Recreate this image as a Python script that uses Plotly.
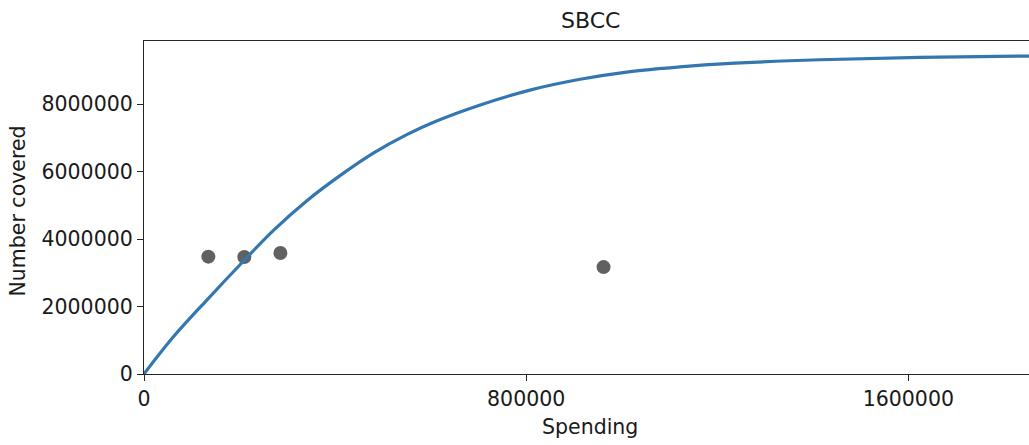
import plotly.graph_objects as go

# Observed data points (spending, number covered)
obs_spending = [134700, 210000, 285500, 962000]
obs_covered = [3480000, 3470000, 3590000, 3170000]

# Fitted response curve
curve_spending = [0, 62000, 132000, 201000, 271000, 341000, 411000, 480000, 550000,
                  610000, 704000, 808000, 913000, 1018000, 1122000, 1227000,
                  1415000, 1624000, 1853000]
curve_covered = [0, 1110000, 2200000, 3240000, 4260000, 5140000, 5890000, 6550000,
                 7100000, 7490000, 7980000, 8420000, 8740000, 8970000, 9110000,
                 9210000, 9320000, 9390000, 9430000]

x_ticks = [0, 800000, 1600000]
y_ticks = [0, 2000000, 4000000, 6000000, 8000000]

title_text = "SBCC"
x_label = "Spending"
y_label = "Number covered"

FONT = "DejaVu Sans"

fig = go.Figure()
fig.add_trace(go.Scatter(
    x=obs_spending, y=obs_covered, mode="markers",
    marker=dict(color="#616161", size=14, line=dict(width=0)),
    showlegend=False, cliponaxis=False,
))
fig.add_trace(go.Scatter(
    x=curve_spending, y=curve_covered, mode="lines",
    line=dict(color="#3477b0", width=3.2, shape="spline", smoothing=1.0),
    showlegend=False,
))

fig.update_layout(
    width=1029, height=445,
    margin=dict(l=144, r=0, t=41, b=71),
    paper_bgcolor="white", plot_bgcolor="white",
    font=dict(family=FONT, size=20.5, color="#1a1a1a"),
    xaxis=dict(
        range=[0, 1852600], tickvals=x_ticks, ticktext=[str(v) for v in x_ticks],
        showgrid=False, zeroline=False, showline=True, linecolor="#262626",
        linewidth=1.2, mirror=True, ticks="outside", ticklen=6, tickwidth=1,
        tickcolor="#262626", tickfont=dict(size=20.5, family=FONT, color="#1a1a1a"),
    ),
    yaxis=dict(
        range=[0, 9876000], tickvals=y_ticks, ticktext=[str(v) for v in y_ticks],
        showgrid=False, zeroline=False, showline=True, linecolor="#262626",
        linewidth=1.2, mirror=False, ticks="outside", ticklen=6, tickwidth=1,
        tickcolor="#262626", tickfont=dict(size=20.5, family=FONT, color="#1a1a1a"),
    ),
    annotations=[
        dict(text=title_text, xref="paper", yref="paper", x=0.504, y=1,
             yshift=20.5, xanchor="center", yanchor="middle", showarrow=False,
             font=dict(size=22, family=FONT, color="#1a1a1a")),
        dict(text=x_label, xref="paper", yref="paper", x=0.504, y=0,
             yshift=-53, xanchor="center", yanchor="middle", showarrow=False,
             font=dict(size=20.5, family=FONT, color="#1a1a1a")),
        dict(text=y_label, xref="paper", yref="paper", x=0, y=0.4895,
             xshift=-126.5, xanchor="center", yanchor="middle", showarrow=False,
             textangle=-90, font=dict(size=20.5, family=FONT, color="#1a1a1a")),
    ],
)

fig.write_html("out.html", config={"displayModeBar": False},
               post_script="document.body.style.margin='0';")
